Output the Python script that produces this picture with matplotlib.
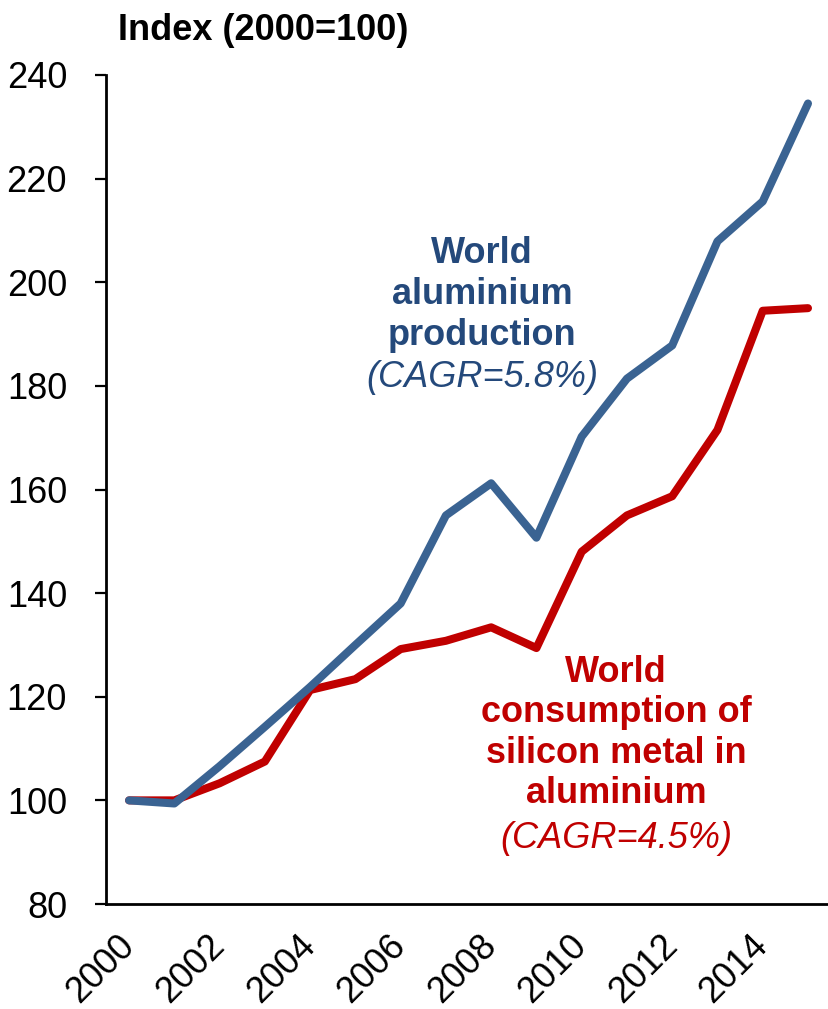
import matplotlib
matplotlib.use("Agg")
import matplotlib.pyplot as plt

plt.rcParams["font.family"] = ["Liberation Sans", "DejaVu Sans"]

# Index values, 2000 = 100
years = list(range(2000, 2016))
aluminium_prod = [100.0, 99.4, 106.6, 114.2, 121.9, 130.0, 138.0, 155.0,
                  161.2, 150.7, 170.2, 181.4, 187.8, 207.9, 215.6, 234.5]
silicon_cons = [100.0, 100.0, 103.3, 107.5, 121.3, 123.4, 129.2, 130.8,
                133.4, 129.4, 148.0, 155.0, 158.7, 171.5, 194.5, 195.0]
year_ticks = list(range(2000, 2015, 2))
value_ticks = list(range(80, 241, 20))

BLUE_LINE = "#3A6392"
BLUE_TEXT = "#24497B"
RED = "#C00000"
FS = 26

fig = plt.figure(figsize=(8.29, 10.09), dpi=100)
ax = fig.add_axes([106 / 829, 1 - 904 / 1009, 721 / 829, 829 / 1009])

ax.plot(years, silicon_cons, color=RED, lw=5.8, solid_capstyle="round",
        solid_joinstyle="round", zorder=3)
ax.plot(years, aluminium_prod, color=BLUE_LINE, lw=5.8, solid_capstyle="round",
        solid_joinstyle="round", zorder=4)

ax.set_xlim(1999.49, 2015.42)
ax.set_ylim(80, 240)
ax.set_xticks(year_ticks)
ax.set_xticklabels([str(y) for y in year_ticks], rotation=45, ha="right",
                   va="center", rotation_mode="anchor", fontsize=FS)
ax.set_yticks(value_ticks)
ax.set_yticklabels([str(v) for v in value_ticks], fontsize=FS)

ax.spines["top"].set_visible(False)
ax.spines["right"].set_visible(False)
for s in ("left", "bottom"):
    ax.spines[s].set_linewidth(2.0)
ax.tick_params(axis="y", direction="out", length=8, width=1.6, pad=20)
ax.tick_params(axis="x", length=0, pad=26)

fig.text(118 / 829, 1 - 40 / 1009, "Index (2000=100)", fontsize=FS,
         fontweight="bold", ha="left", va="baseline")

# series labels (baseline = last line)
ax.text(2007.8, 187.9, "World\naluminium\nproduction", color=BLUE_TEXT,
        fontsize=FS, fontweight="bold", ha="center", va="baseline",
        linespacing=1.22)
ax.text(2007.8, 179.8, "(CAGR=5.8%)", color=BLUE_TEXT, fontsize=FS,
        style="italic", ha="center", va="baseline")

ax.text(2010.76, 99.5, "World\nconsumption of\nsilicon metal in\naluminium",
        color=RED, fontsize=FS, fontweight="bold", ha="center",
        va="baseline", linespacing=1.2)
ax.text(2010.76, 90.8, "(CAGR=4.5%)", color=RED, fontsize=FS,
        style="italic", ha="center", va="baseline")

fig.savefig("out.png", dpi=100)
